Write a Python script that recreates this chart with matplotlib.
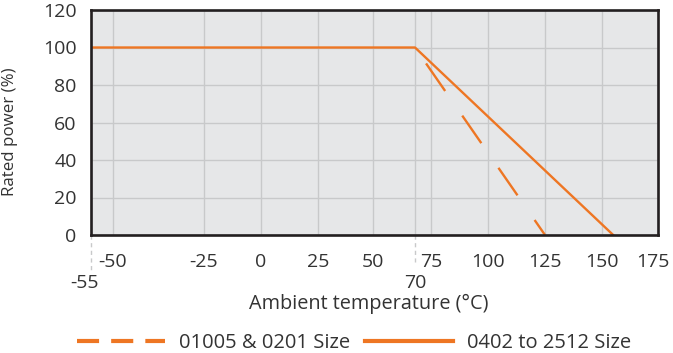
import numpy as np
import matplotlib
matplotlib.use('Agg')
import matplotlib.pyplot as plt
from matplotlib.lines import Line2D
import matplotlib.transforms as mtransforms

# Derating curve data
temp_small = [-55, 70, 125]      # 01005 & 0201
power_small = [100, 100, 0]
temp_large = [-55, 70, 155]      # 0402 to 2512
power_large = [100, 100, 0]

x_ticks = [-50, -25, 0, 25, 50, 75, 100, 125, 150, 175]
x_extra = [-55, 70]
y_ticks = [0, 20, 40, 60, 80, 100, 120]
labels = ['01005 & 0201 Size', '0402 to 2512 Size']

# The original axis is not linear: piecewise mapping of values to positions
scale_vals = [-55, -50, -25, 0, 25, 50, 70, 75, 100, 125, 150, 175]
scale_pos = [0, 22.5, 113.5, 170.5, 227.5, 282.8, 324.5, 340.5, 397.5, 454.5, 511.5, 567.5]

def fwd(x):
    return np.interp(x, scale_vals, scale_pos)

def inv(p):
    return np.interp(p, scale_pos, scale_vals)

orange = '#ee7623'
grid_c = '#c8c9ca'
text_c = '#333333'

plt.rcParams['font.family'] = ['Open Sans', 'DejaVu Sans']
plt.rcParams['axes.unicode_minus'] = False

fig = plt.figure(figsize=(6.73, 3.53), dpi=100)
ax = fig.add_axes([90.5 / 673, 118 / 353, 567.5 / 673, 225 / 353])
ax.set_facecolor('#e6e7e8')
ax.set_xscale('function', functions=(fwd, inv))
ax.set_xlim(-55, 175)
ax.set_ylim(0, 120)

ax.set_xticks(x_ticks)
ax.set_xticklabels([str(t) for t in x_ticks])
ax.set_xticks(x_extra, minor=True)
ax.set_xticklabels([str(t) for t in x_extra], minor=True)
ax.set_yticks(y_ticks)
ax.tick_params(axis='x', which='major', length=0, pad=13, labelsize=14, labelcolor=text_c)
ax.tick_params(axis='x', which='minor', length=0, pad=28, labelsize=14, labelcolor=text_c)
ax.tick_params(axis='y', length=0, pad=10, labelsize=14, labelcolor=text_c)
ax.grid(True, which='both', color=grid_c, lw=1.0)
ax.set_axisbelow(True)

# last label sits a little to the left so it stays inside the figure
last = ax.get_xticklabels()[-1]
last.set_transform(last.get_transform() + mtransforms.ScaledTranslation(-4 / 72, 0, fig.dpi_scale_trans))
# -55 label is drawn slightly left of its line in the original
first_minor = ax.get_xticklabels(minor=True)[0]
first_minor.set_transform(first_minor.get_transform() + mtransforms.ScaledTranslation(-4 / 72, 0, fig.dpi_scale_trans))

for s in ax.spines.values():
    s.set_color('#231f20')
    s.set_linewidth(1.9)
    s.set_zorder(5)

# dashed extension lines below the axis for -55 and 70
trans = mtransforms.blended_transform_factory(ax.transData, ax.transAxes)
for xv, depth in zip(x_extra, [0.155, 0.12]):
    ax.plot([xv, xv], [0, -depth], transform=trans, clip_on=False,
            color=grid_c, lw=1.0, dashes=(3, 2.5))

lw = 1.7
px = 0.72 / lw
# flat part is shared with the solid curve, dashes only show on the slope
ax.plot(temp_small[1:], power_small[1:], color=orange, lw=lw, zorder=3,
        linestyle=(44.1 * px, (33.5 * px, 30 * px)))
ax.plot(temp_large, power_large, color=orange, lw=lw, zorder=4)

ax.set_ylabel('Rated power (%)', fontsize=12.2, color=text_c)
ax.yaxis.set_label_coords(-0.127, 0.46)
ax.set_xlabel('Ambient temperature (°C)', fontsize=14.3, color=text_c)
ax.xaxis.set_label_coords(0.49, -0.26)

handles = [Line2D([], [], color=orange, lw=3, dashes=(5.3, 2.9)),
           Line2D([], [], color=orange, lw=3)]
fig.legend(handles, labels, loc='center', bbox_to_anchor=(354 / 673, 10 / 353),
           ncol=2, frameon=False, fontsize=14.5, handlelength=4.4,
           handletextpad=0.7, columnspacing=0.7, labelcolor=text_c)

fig.savefig('out.png', dpi=100)
